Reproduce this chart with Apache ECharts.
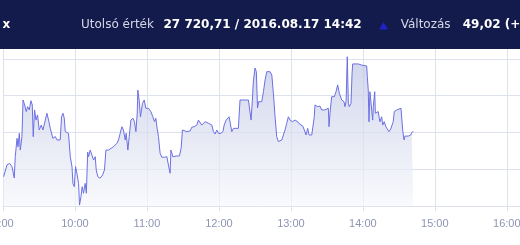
<!DOCTYPE html>
<html>
<head>
<meta charset="utf-8">
<script src="https://cdn.jsdelivr.net/npm/echarts@6/dist/echarts.min.js"></script>
<style>html,body{margin:0;padding:0;background:#fff}#c{width:520px;height:245px}</style>
</head>
<body>
<div id="c"></div>
<script>
// minutes after 09:00
var minutes = [0.5,1.7,3.3,5.5,7.5,9.4,10.2,11.7,12.5,13.6,14.4,15.8,16.7,17.7,18.6,19.4,20.5,21.9,23.3,24.4,25.2,26.3,27.5,28.8,30.2,31.9,33.3,34.6,36.6,38.3,39.4,40.8,41.6,43.6,45.0,46.3,47.7,48.8,50.0,51.1,51.9,53.3,54.6,56.1,57.5,58.3,59.4,60.5,61.6,63.0,63.8,65.0,66.0,67.1,68.5,69.5,70.6,71.3,72.7,74.1,75.5,76.9,77.7,79.1,81.0,83.0,84.6,85.8,88.0,90.2,92.1,93.5,95.0,96.3,97.7,99.1,100.4,101.9,102.7,104.1,105.2,106.6,108.3,109.6,110.8,111.9,112.4,113.5,114.6,116.3,117.7,119.1,121.3,123.3,124.9,126.3,127.4,128.5,129.6,131.0,132.4,134.6,136.6,137.9,139.3,140.0,141.6,144.9,147.1,148.5,149.6,153.3,156.0,157.4,159.3,161.6,162.9,164.3,165.7,167.1,168.5,169.9,171.2,172.7,174.1,175.4,176.8,178.2,179.6,181.6,183.3,184.4,186.0,187.1,188.5,189.9,190.7,192.1,196.2,197.6,199.1,201.8,203.2,204.6,206.0,206.8,207.9,208.7,210.1,211.2,212.2,213.1,214.3,215.7,217.1,218.5,219.9,222.6,224.1,225.4,226.8,228.2,229.5,231.0,232.4,233.7,235.1,236.5,237.9,239.3,241.2,243.5,245.7,247.0,248.5,249.9,251.2,252.6,254.0,255.1,257.4,258.7,259.5,260.1,262.4,264.3,265.7,267.0,268.4,269.9,271.2,271.8,272.6,274.0,276.2,277.6,279.0,280.4,282.4,284.3,285.1,286.0,287.0,287.9,288.7,290.1,291.0,291.5,296.2,299.0,303.2,303.7,304.5,305.1,305.9,307.4,308.2,308.7,309.9,310.4,311.5,312.8,314.2,315.7,316.5,317.8,319.2,320.7,321.7,323.2,324.5,325.3,326.2,327.0,328.2,329.5,331.8,332.6,333.2,334.3,335.1,337.9,339.9,340.7,342.0];
var values = [27695.9,27695.4,27702.3,27703.2,27701.4,27695.2,27706.8,27716.8,27712.2,27719.5,27710.4,27717.7,27737.6,27735.8,27736.7,27731.3,27734.0,27732.2,27737.2,27734.9,27717.7,27732.2,27726.7,27729.5,27721.3,27724.0,27721.3,27722.2,27730.4,27725.8,27722.2,27723.1,27716.8,27717.7,27715.9,27716.8,27715.9,27728.5,27730.4,27727.7,27720.4,27720.4,27719.5,27706.8,27701.4,27692.3,27690.5,27701.4,27697.8,27692.3,27680.5,27685.1,27690.5,27686.9,27692.3,27686.9,27709.3,27706.8,27710.4,27707.7,27705.0,27706.8,27699.6,27695.9,27695.1,27696.8,27699.6,27710.4,27710.4,27711.4,27712.2,27711.4,27714.1,27715.9,27719.5,27723.1,27721.3,27715.9,27719.5,27710.4,27717.7,27726.7,27727.7,27725.8,27720.4,27730.4,27743.0,27737.6,27728.5,27735.8,27737.6,27733.1,27733.1,27731.3,27728.5,27725.8,27727.7,27722.2,27717.7,27708.6,27706.5,27706.5,27706.8,27702.3,27697.8,27710.4,27706.8,27707.2,27707.2,27711.4,27721.3,27720.4,27720.8,27722.8,27723.1,27724.0,27726.7,27726.4,27724.0,27724.6,27725.8,27726.7,27725.0,27724.0,27724.0,27720.4,27719.1,27721.3,27719.5,27719.5,27720.4,27724.0,27726.7,27725.8,27728.5,27727.7,27720.4,27722.2,27722.2,27737.6,27738.0,27737.6,27738.5,27737.6,27738.5,27726.7,27737.6,27747.6,27755.0,27753.0,27733.3,27736.7,27735.8,27736.7,27742.1,27748.5,27753.0,27753.0,27751.2,27741.3,27728.5,27717.7,27715.0,27715.0,27715.9,27716.8,27721.3,27724.9,27728.5,27726.7,27725.8,27726.7,27725.8,27724.6,27724.9,27723.5,27721.3,27718.6,27722.2,27718.6,27718.6,27719.5,27728.5,27734.9,27734.0,27734.3,27732.2,27731.3,27732.2,27733.1,27733.1,27723.1,27730.4,27739.4,27739.4,27742.1,27745.8,27741.3,27737.6,27736.7,27734.0,27736.7,27761.1,27735.8,27734.0,27735.8,27752.1,27757.2,27757.2,27756.6,27756.1,27750.3,27743.0,27725.8,27742.1,27741.3,27726.7,27734.0,27742.1,27730.4,27729.5,27731.3,27725.8,27728.5,27724.0,27725.8,27723.1,27722.2,27720.4,27721.8,27721.3,27725.8,27731.3,27730.4,27732.2,27733.1,27733.1,27732.2,27721.3,27715.9,27718.0,27718.0,27718.6,27719.8,27720.71];
var hourTicks = ['9:00','10:00','11:00','12:00','13:00','14:00','15:00','16:00'];
var headerLabelLast = 'Utolsó érték';
var headerValueLast = '27 720,71 / 2016.08.17 14:42';
var headerLabelChange = 'Változás';
var headerValueChange = '49,02 (+0,18%)';
var headerIndex = 'x';

var data = minutes.map(function (m, i) { return [m, values[i]]; });
var gridColor = '#dde2ec';
var chart = echarts.init(document.getElementById('c'), null, { renderer: 'canvas' });
chart.setOption({
  animation: false,
  grid: { left: 3, right: 0, top: 22, bottom: 39, containLabel: false, outerBoundsMode: 'none' },
  xAxis: {
    type: 'value', min: 0, max: 431, interval: 60,
    axisLine: { show: true, lineStyle: { color: gridColor } },
    axisTick: { show: true, length: 5, lineStyle: { color: gridColor } },
    splitLine: { show: true, lineStyle: { color: gridColor, width: 1 } },
    axisLabel: {
      color: '#8f94b6', fontSize: 11, fontFamily: 'Liberation Sans', margin: 12,
      showMaxLabel: false, hideOverlap: false,
      formatter: function (v) { var i = Math.round(v / 60); return (Math.abs(v - i * 60) < 0.01 && hourTicks[i]) ? hourTicks[i] : ''; }
    }
  },
  yAxis: {
    type: 'value', min: 27680, max: 27780, interval: 20,
    axisLine: { show: false }, axisTick: { show: false }, axisLabel: { show: false },
    splitLine: { show: true, lineStyle: { color: gridColor, width: 1 } }
  },
  series: [{
    type: 'line', data: data, showSymbol: false, symbol: 'none',
    lineStyle: { color: '#6c70e2', width: 1 },
    areaStyle: {
      color: new echarts.graphic.LinearGradient(0, 0, 0, 1, [
        { offset: 0, color: '#bcc3e2' },
        { offset: 1, color: '#f6f7fb' }
      ])
    }
  }],
  graphic: [
    { type: 'rect', z: 100, shape: { x: 0, y: 0, width: 520, height: 49 }, style: { fill: '#131b4c' } },
    { type: 'text', z: 101, style: { text: headerIndex, x: 2.5, y: 25, fill: '#ffffff', font: 'bold 12px "DejaVu Sans"', verticalAlign: 'middle' } },
    { type: 'text', z: 101, style: { text: headerLabelLast, x: 81, y: 25, fill: '#d6d8e6', font: '12px "DejaVu Sans"', verticalAlign: 'middle' } },
    { type: 'text', z: 101, style: { text: headerValueLast, x: 163.5, y: 25, fill: '#ffffff', font: 'bold 12px "DejaVu Sans"', verticalAlign: 'middle' } },
    { type: 'polygon', z: 101, shape: { points: [[379, 29.5], [388, 29.5], [383.5, 22]] }, style: { fill: '#1f22c4' } },
    { type: 'text', z: 101, style: { text: headerLabelChange, x: 400.7, y: 25, fill: '#d6d8e6', font: '12px "DejaVu Sans"', verticalAlign: 'middle' } },
    { type: 'text', z: 101, style: { text: headerValueChange, x: 462.7, y: 25, fill: '#ffffff', font: 'bold 12px "DejaVu Sans"', verticalAlign: 'middle' } }
  ]
});
</script>
</body>
</html>
